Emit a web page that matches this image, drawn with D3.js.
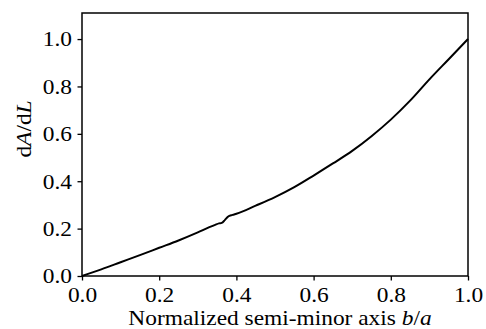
<!DOCTYPE html>
<html>
<head>
<meta charset="utf-8">
<script src="https://cdn.jsdelivr.net/npm/d3@7"></script>
<style>
  body { margin: 0; background: #fff; }
  svg text { font-family: "Liberation Serif", "Times New Roman", serif; fill: #000; }
</style>
</head>
<body>
<div id="chart"></div>
<script>
// curve: b/a vs dA/dL
var ratio = [0.0, 0.05, 0.1, 0.15, 0.2, 0.25, 0.3, 0.33, 0.345, 0.355, 0.362, 0.37, 0.378, 0.39, 0.4,
  0.45, 0.5, 0.55, 0.6, 0.65, 0.7, 0.75, 0.8, 0.85, 0.9, 0.95, 1.0];
var dadl = [0.0, 0.028, 0.058, 0.088, 0.119, 0.15, 0.184, 0.206, 0.216, 0.222, 0.224, 0.236, 0.25, 0.258, 0.263,
  0.297, 0.333, 0.375, 0.424, 0.475, 0.528, 0.59, 0.66, 0.74, 0.83, 0.915, 1.0];
var xTicks = [0, 0.2, 0.4, 0.6, 0.8, 1.0];
var yTicks = [0, 0.2, 0.4, 0.6, 0.8, 1.0];

(function () {
var width = 486, height = 329;
var pl = 82, pr = 468, pt = 13, pb = 276;
var stretch = 1.17; // reference font runs wider than Liberation Serif

var svg = d3.select("#chart").append("svg").attr("width", width).attr("height", height);

var x = d3.scaleLinear().domain([0, 1]).range([pl, pr]);
var y = d3.scaleLinear().domain([0, 1.11]).range([pb, pt]);

svg.append("path")
  .datum(ratio)
  .attr("fill", "none")
  .attr("stroke", "#000")
  .attr("stroke-width", 2)
  .attr("d", d3.line().curve(d3.curveMonotoneX)
    .x(function (d) { return x(d); })
    .y(function (d, i) { return y(dadl[i]); }));

var xAxis = d3.axisBottom(x).tickValues(xTicks).tickFormat(d3.format(".1f")).tickSize(4.5);
var yAxis = d3.axisLeft(y).tickValues(yTicks).tickFormat(d3.format(".1f")).tickSize(4.5);

var gx = svg.append("g").attr("transform", "translate(0," + pb + ")").call(xAxis);
var gy = svg.append("g").attr("transform", "translate(" + pl + ",0)").call(yAxis);
[gx, gy].forEach(function (g) {
  g.select(".domain").remove();
  g.selectAll("line").attr("stroke", "#000").attr("stroke-width", 1.3);
  g.selectAll("text").attr("font-size", 20).attr("font-family", "Liberation Serif")
    .attr("fill", "#000").attr("transform", "scale(" + stretch + ",1)");
});
gx.selectAll("text").attr("y", 26).attr("dy", null);
gy.selectAll("text").attr("x", -10 / stretch).attr("dy", "0.34em");

// frame
svg.append("rect")
  .attr("x", pl).attr("y", pt)
  .attr("width", pr - pl).attr("height", pb - pt)
  .attr("fill", "none").attr("stroke", "#000").attr("stroke-width", 1.5);

// axis titles
var xl = svg.append("text")
  .attr("transform", "translate(280,325) scale(" + stretch + ",1)")
  .attr("text-anchor", "middle").attr("font-size", 20);
xl.append("tspan").text("Normalized semi-minor axis ");
xl.append("tspan").attr("font-style", "italic").text("b");
xl.append("tspan").text("/");
xl.append("tspan").attr("font-style", "italic").text("a");

var yl = svg.append("text")
  .attr("transform", "translate(31,129) rotate(-90) scale(" + stretch + ",1)")
  .attr("text-anchor", "middle").attr("font-size", 20);
yl.append("tspan").text("d");
yl.append("tspan").attr("font-style", "italic").text("A");
yl.append("tspan").text("/d");
yl.append("tspan").attr("font-style", "italic").text("L");
})();
</script>
</body>
</html>
